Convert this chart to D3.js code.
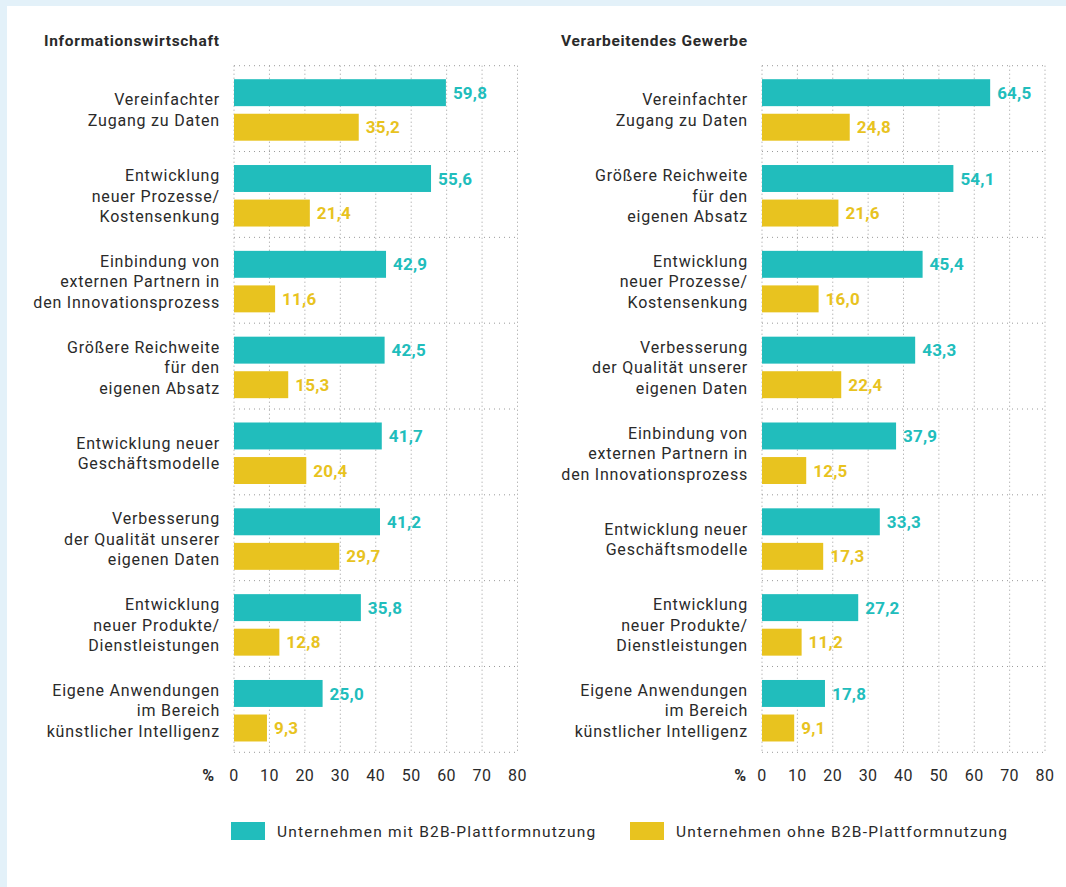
<!DOCTYPE html>
<html>
<head>
<meta charset="utf-8">
<script src="https://cdn.jsdelivr.net/npm/d3@7"></script>
<style>
  html, body { margin: 0; padding: 0; background: #e3f1f9; }
  svg { display: block; }
</style>
</head>
<body>
<svg id="chart" width="1066" height="887"></svg>
<script>
// Categories (line breaks marked with "|")
const catsInfo = [
  "Vereinfachter|Zugang zu Daten",
  "Entwicklung|neuer Prozesse/|Kostensenkung",
  "Einbindung von|externen Partnern in|den Innovationsprozess",
  "Größere Reichweite|für den|eigenen Absatz",
  "Entwicklung neuer|Geschäftsmodelle",
  "Verbesserung|der Qualität unserer|eigenen Daten",
  "Entwicklung|neuer Produkte/|Dienstleistungen",
  "Eigene Anwendungen|im Bereich|künstlicher Intelligenz"
];
const infoMit  = [59.8, 55.6, 42.9, 42.5, 41.7, 41.2, 35.8, 25.0];
const infoOhne = [35.2, 21.4, 11.6, 15.3, 20.4, 29.7, 12.8, 9.3];

const catsVerarb = [
  "Vereinfachter|Zugang zu Daten",
  "Größere Reichweite|für den|eigenen Absatz",
  "Entwicklung|neuer Prozesse/|Kostensenkung",
  "Verbesserung|der Qualität unserer|eigenen Daten",
  "Einbindung von|externen Partnern in|den Innovationsprozess",
  "Entwicklung neuer|Geschäftsmodelle",
  "Entwicklung|neuer Produkte/|Dienstleistungen",
  "Eigene Anwendungen|im Bereich|künstlicher Intelligenz"
];
const verarbMit  = [64.5, 54.1, 45.4, 43.3, 37.9, 33.3, 27.2, 17.8];
const verarbOhne = [24.8, 21.6, 16.0, 22.4, 12.5, 17.3, 11.2, 9.1];

const panelTitles = ["Informationswirtschaft", "Verarbeitendes Gewerbe"];
const seriesNames = ["Unternehmen mit B2B-Plattformnutzung", "Unternehmen ohne B2B-Plattformnutzung"];
const xTicks = [0, 10, 20, 30, 40, 50, 60, 70, 80];
const axisUnit = "%";

const colors = ["#21bdbc", "#e8c31f"];
const textColor = "#2a2a2a";
const gridColor = "#9a9a9a";
const labelFont = "Roboto, 'DejaVu Sans', sans-serif";

const svg = d3.select("#chart");

// white card
svg.append("rect").attr("x", 7).attr("y", 6).attr("width", 1066).attr("height", 887).attr("fill", "#ffffff");

const fmt = v => d3.format(".1f")(v).replace(".", ",");

function drawPanel(cfg) {
  const { cats, mit, ohne, title, x0, x1, titleX, unitGap } = cfg;
  const g = svg.append("g");

  const x = d3.scaleLinear().domain([0, 80]).range([x0, x1]);
  const y = d3.scaleBand().domain(d3.range(cats.length)).range([65.7, 752.3]).padding(0);
  const sub = d3.scaleBand().domain([0, 1]).range([13.5, 75]).paddingInner(0.22).paddingOuter(0);

  // title
  g.append("text")
    .attr("x", titleX).attr("y", 46)
    .attr("font-family", labelFont).attr("font-weight", 700).attr("font-size", 15.5)
    .attr("letter-spacing", 0.7)
    .attr("fill", textColor)
    .text(title);

  // dotted grid: vertical lines at ticks
  g.selectAll(".vgrid").data(xTicks).join("line")
    .attr("x1", d => x(d)).attr("x2", d => x(d))
    .attr("y1", y.range()[0]).attr("y2", y.range()[1])
    .attr("stroke", gridColor).attr("stroke-width", 1)
    .attr("stroke-dasharray", "1,3");

  // dotted grid: horizontal band boundaries
  const bounds = d3.range(cats.length + 1).map(i => i < cats.length ? y(i) : y.range()[1]);
  g.selectAll(".hgrid").data(bounds).join("line")
    .attr("x1", x(0)).attr("x2", x(80))
    .attr("y1", d => d).attr("y2", d => d)
    .attr("stroke", gridColor).attr("stroke-width", 1)
    .attr("stroke-dasharray", "1,4");

  const rows = cats.map((c, i) => ({ i, lines: c.split("|"), vals: [mit[i], ohne[i]] }));

  const row = g.selectAll(".row").data(rows).join("g")
    .attr("transform", d => `translate(0,${y(d.i)})`);

  // bars
  row.selectAll("rect").data(d => d.vals.map((v, k) => ({ v, k }))).join("rect")
    .attr("x", x(0))
    .attr("y", d => sub(d.k))
    .attr("width", d => x(d.v) - x(0))
    .attr("height", sub.bandwidth())
    .attr("fill", d => colors[d.k]);

  // value labels
  row.selectAll(".val").data(d => d.vals.map((v, k) => ({ v, k }))).join("text")
    .attr("x", d => x(d.v) + 7)
    .attr("y", d => sub(d.k) + sub.bandwidth() / 2)
    .attr("dy", "0.36em")
    .attr("font-family", labelFont).attr("font-weight", 700).attr("font-size", 17)
    .attr("letter-spacing", 0.2)
    .attr("fill", d => colors[d.k])
    .text(d => fmt(d.v));

  // category labels
  const mid = (sub(0) + sub(1) + sub.bandwidth()) / 2;
  const lh = 20.5;
  row.append("text")
    .attr("x", x0 - 14)
    .attr("text-anchor", "end")
    .attr("font-family", labelFont).attr("font-size", 16)
    .attr("letter-spacing", 0.8)
    .attr("fill", textColor)
    .each(function (d) {
      const n = d.lines.length;
      d3.select(this).selectAll("tspan").data(d.lines).join("tspan")
        .attr("x", x0 - 14)
        .attr("y", (l, j) => mid + (j - (n - 1) / 2) * lh)
        .attr("dy", "0.36em")
        .text(l => l);
    });

  // x axis tick labels
  g.selectAll(".tick").data(xTicks).join("text")
    .attr("x", d => x(d)).attr("y", 775).attr("dy", "0.36em")
    .attr("text-anchor", "middle")
    .attr("font-family", labelFont).attr("font-size", 16)
    .attr("letter-spacing", 0.5)
    .attr("fill", textColor)
    .text(d => d);

  g.append("text")
    .attr("x", x0 - unitGap).attr("y", 775).attr("dy", "0.36em")
    .attr("text-anchor", "end")
    .attr("font-family", labelFont).attr("font-weight", 700).attr("font-size", 16)
    .attr("fill", textColor)
    .text(axisUnit);
}

drawPanel({ cats: catsInfo, mit: infoMit, ohne: infoOhne, title: panelTitles[0],
            x0: 234, x1: 517.5, titleX: 44, unitGap: 20 });
drawPanel({ cats: catsVerarb, mit: verarbMit, ohne: verarbOhne, title: panelTitles[1],
            x0: 762, x1: 1045, titleX: 561, unitGap: 16 });

// legend
const legendX = [231, 630];
const leg = svg.append("g").selectAll("g").data(seriesNames).join("g")
  .attr("transform", (d, i) => `translate(${legendX[i]},822)`);
leg.append("rect").attr("width", 34).attr("height", 18).attr("fill", (d, i) => colors[i]);
leg.append("text")
  .attr("x", 46).attr("y", 9).attr("dy", "0.36em")
  .attr("font-family", labelFont).attr("font-size", 15.5)
  .attr("letter-spacing", 1.2)
  .attr("fill", textColor)
  .text(d => d);
</script>
</body>
</html>
